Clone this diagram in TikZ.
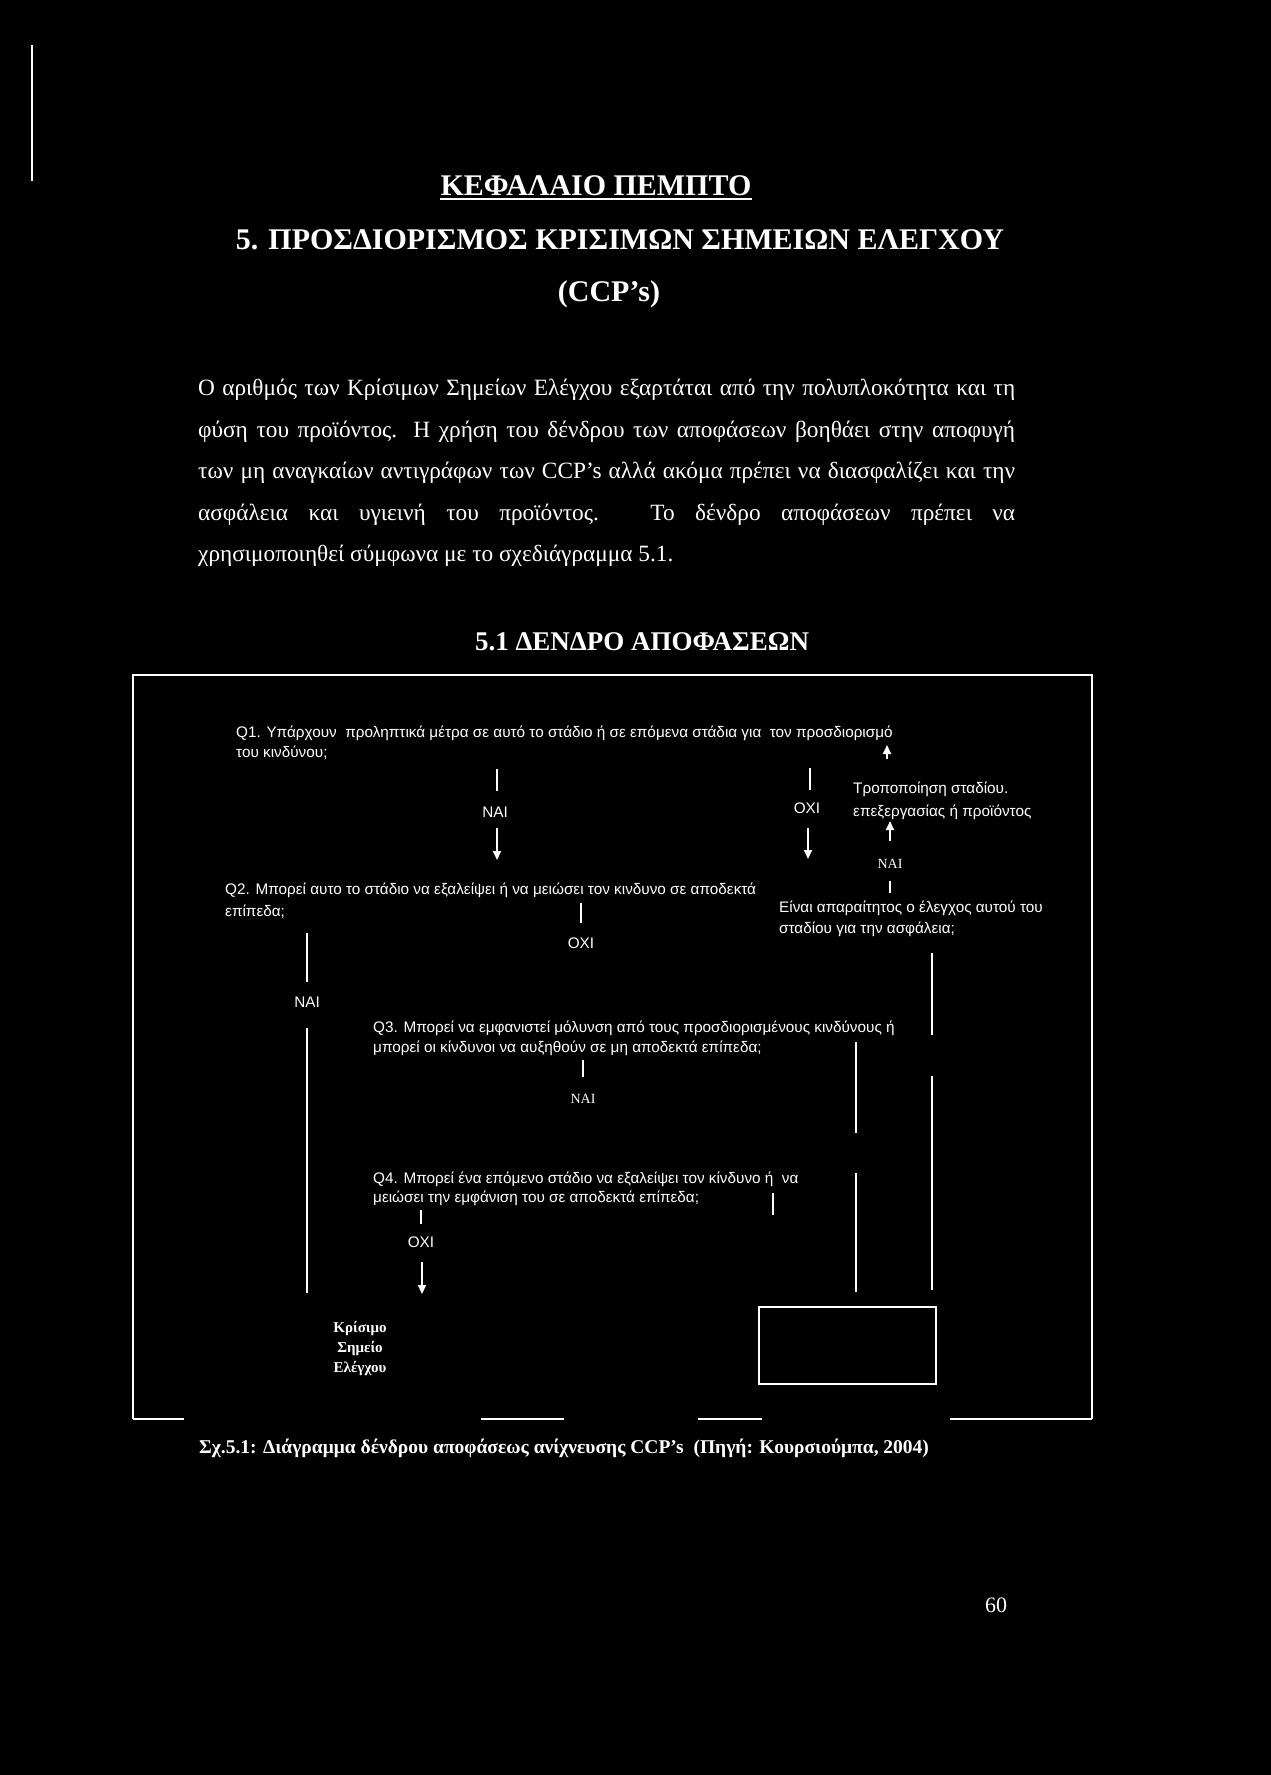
\documentclass[tikz,border=0pt]{standalone}
\usepackage{fontspec}
\setmainfont{Liberation Serif}
\newfontfamily\sansgr{Liberation Sans}
\usetikzlibrary{arrows.meta}
\begin{document}
\begin{tikzpicture}[x=1pt,y=-1pt,
  txt/.style={text=white, inner sep=0pt, anchor=base west},
  ctxt/.style={text=white, inner sep=0pt, anchor=base},
  sq/.style={txt, font=\sansgr\fontsize{15.3}{18}\selectfont},
  lbl/.style={ctxt, font=\sansgr\fontsize{15.3}{18}\selectfont},
  slbl/.style={ctxt, font=\fontsize{14}{16}\selectfont},
  para/.style={txt, font=\fontsize{23.3}{26}\selectfont},
  ttl/.style={ctxt, font=\bfseries\fontsize{30}{32}\selectfont},
  ccp/.style={ctxt, font=\bfseries\fontsize{15}{18}\selectfont},
  ln/.style={draw=white, line width=1.8pt},
  arr/.style={ln, -{Triangle[length=9pt,width=8pt]}},
  framel/.style={draw=white, line width=2pt},
]
\fill[black] (0,0) rectangle (1271,1775);
\useasboundingbox (0,0) rectangle (1271,1775);

% margin mark
\coordinate (m1) at (32,45);
\coordinate (m2) at (32,181);
\draw[draw=white, line width=1.3pt] (m1) -- (m2);

% titles
\node[ttl] (t1) at (596,195) {ΚΕΦΑΛΑΙΟ ΠΕΜΠΤΟ};
\draw[draw=white, line width=2.5pt] ([yshift=-4pt]t1.base west) -- ([yshift=-4pt]t1.base east);
\node[ttl] (t2) at (620,249) {5. ΠΡΟΣΔΙΟΡΙΣΜΟΣ ΚΡΙΣΙΜΩΝ ΣΗΜΕΙΩΝ ΕΛΕΓΧΟΥ};
\node[ttl] (t3) at (609,301) {(CCP’s)};

% paragraph
\node[para] (p1) at (198,395) {\makebox[817pt][s]{Ο αριθμός των Κρίσιμων Σημείων Ελέγχου εξαρτάται από την πολυπλοκότητα και τη}};
\node[para] (p2) at (198,437) {\makebox[817pt][s]{φύση του προϊόντος. Η χρήση του δένδρου των αποφάσεων βοηθάει στην αποφυγή}};
\node[para] (p3) at (198,478) {\makebox[817pt][s]{των μη αναγκαίων αντιγράφων των CCP’s αλλά ακόμα πρέπει να διασφαλίζει και την}};
\node[para] (p4) at (198,520) {\makebox[817pt][s]{ασφάλεια και υγιεινή του προϊόντος. Το δένδρο αποφάσεων πρέπει να}};
\node[para] (p5) at (198,561) {χρησιμοποιηθεί σύμφωνα με το σχεδιάγραμμα 5.1.};

\node[ctxt, font=\bfseries\fontsize{27}{30}\selectfont] (h) at (642,650) {5.1 ΔΕΝΔΡΟ ΑΠΟΦΑΣΕΩΝ};

% frame
\coordinate (fTL) at (133,675);
\coordinate (fTR) at (1092,675);
\coordinate (fBL) at (133,1419);
\coordinate (fBR) at (1092,1419);
\draw[framel] (fBL) -- (fTL) -- (fTR) -- (fBR);
\draw[framel] (fBL) -- ++(51,0);
\draw[framel] (fBR) -- ++(-142,0);
\coordinate (b1) at (481,1419);
\coordinate (b2) at (698,1419);
\draw[framel] (b1) -- ++(83,0);
\draw[framel] (b2) -- ++(64,0);

% Q1
\node[sq] (q1a) at (236,737) {Q1. Υπάρχουν \ προληπτικά μέτρα σε αυτό το στάδιο ή σε επόμενα στάδια για \ τον προσδιορισμό};
\node[sq] (q1b) at (236,757) {του κινδύνου;};
\coordinate (up1s) at (887,759);
\coordinate (up1e) at (887,745);
\draw[arr] (up1s) -- (up1e);

% YES branch of Q1
\coordinate (y1a) at (497,769);
\coordinate (y1b) at (497,791);
\draw[ln] (y1a) -- (y1b);
\node[lbl] (nai1) at (495,817) {ΝΑΙ};
\coordinate (y1c) at (497,828);
\coordinate (y1d) at (497,860);
\draw[arr] (y1c) -- (y1d);

% NO branch of Q1
\coordinate (n1a) at (810,768);
\coordinate (n1b) at (810,790);
\draw[ln] (n1a) -- (n1b);
\node[lbl] (oxi1) at (807,813) {ΟΧΙ};
\coordinate (n1c) at (808,828);
\coordinate (n1d) at (808,859);
\draw[arr] (n1c) -- (n1d);

% modification text
\node[sq] (mod1) at (853,793) {Τροποποίηση σταδίου.};
\node[sq] (mod2) at (853,816) {επεξεργασίας ή προϊόντος};
\coordinate (u2s) at (890,841);
\coordinate (u2e) at (890,821);
\draw[arr] (u2s) -- (u2e);
\node[slbl] (nai2) at (890,868) {ΝΑΙ};
\coordinate (k1) at (890,881);
\coordinate (k2) at (890,893);
\draw[ln] (k1) -- (k2);

% Q2
\node[sq] (q2a) at (225,894) {Q2. Μπορεί αυτο το στάδιο να εξαλείψει ή να μειώσει τον κινδυνο σε αποδεκτά};
\node[sq] (q2b) at (225,916) {επίπεδα;};
\node[sq] (ctl1) at (779,912) {Είναι απαραίτητος ο έλεγχος αυτού του};
\node[sq] (ctl2) at (779,933) {σταδίου για την ασφάλεια;};

\coordinate (o2a) at (581,903);
\coordinate (o2b) at (581,923);
\draw[ln] (o2a) -- (o2b);
\node[lbl] (oxi2) at (581,948) {ΟΧΙ};

% YES of Q2 (left long line)
\coordinate (l1) at (307,933);
\coordinate (l2) at (307,982);
\draw[ln] (l1) -- (l2);
\node[lbl] (nai3) at (307,1007) {ΝΑΙ};
\coordinate (l3) at (307,1028);
\coordinate (l4) at (307,1293);
\draw[ln] (l3) -- (l4);

% right long lines
\coordinate (r1) at (932,953);
\coordinate (r2) at (932,1035);
\coordinate (r3) at (932,1076);
\coordinate (r4) at (932,1290);
\draw[ln] (r1) -- (r2);
\draw[ln] (r3) -- (r4);
\coordinate (s1) at (856,1042);
\coordinate (s2) at (856,1133);
\coordinate (s3) at (856,1173);
\coordinate (s4) at (856,1292);
\draw[ln] (s1) -- (s2);
\draw[ln] (s3) -- (s4);

% Q3
\node[sq] (q3a) at (373,1032) {Q3. Μπορεί να εμφανιστεί μόλυνση από τους προσδιορισμένους κινδύνους ή};
\node[sq] (q3b) at (373,1052) {μπορεί οι κίνδυνοι να αυξηθούν σε μη αποδεκτά επίπεδα;};
\coordinate (q3t1) at (583,1060);
\coordinate (q3t2) at (583,1077);
\draw[ln] (q3t1) -- (q3t2);
\node[slbl] (nai4) at (583,1103) {ΝΑΙ};

% Q4
\node[sq] (q4a) at (373,1183) {Q4. Μπορεί ένα επόμενο στάδιο να εξαλείψει τον κίνδυνο ή \ να};
\node[sq] (q4b) at (373,1202) {μειώσει την εμφάνιση του σε αποδεκτά επίπεδα;};
\coordinate (q4r1) at (773,1193);
\coordinate (q4r2) at (773,1215);
\draw[ln] (q4r1) -- (q4r2);
\coordinate (q4t1) at (421,1210);
\coordinate (q4t2) at (421,1224);
\draw[ln] (q4t1) -- (q4t2);
\node[lbl] (oxi4) at (421,1247) {ΟΧΙ};
\coordinate (a4s) at (422,1262);
\coordinate (a4e) at (422,1294);
\draw[arr] (a4s) -- (a4e);

% Critical control point
\node[ccp] (ccp1) at (360,1332) {Κρίσιμο};
\node[ccp] (ccp2) at (360,1352) {Σημείο};
\node[ccp] (ccp3) at (360,1372) {Ελέγχου};

% empty box
\node[draw=white, line width=2pt, minimum width=177pt, minimum height=77pt, inner sep=0pt, anchor=north west] (stop) at (758,1306) {};

% caption
\node[txt, font=\bfseries\fontsize{19.5}{22}\selectfont] (cap) at (199,1453) {Σχ.5.1: Διάγραμμα δένδρου αποφάσεως ανίχνευσης CCP’s \ (Πηγή: Κουρσιούμπα, 2004)};

% page number
\node[ctxt, font=\fontsize{22}{24}\selectfont] (pg) at (996,1612) {60};
\end{tikzpicture}
\end{document}
